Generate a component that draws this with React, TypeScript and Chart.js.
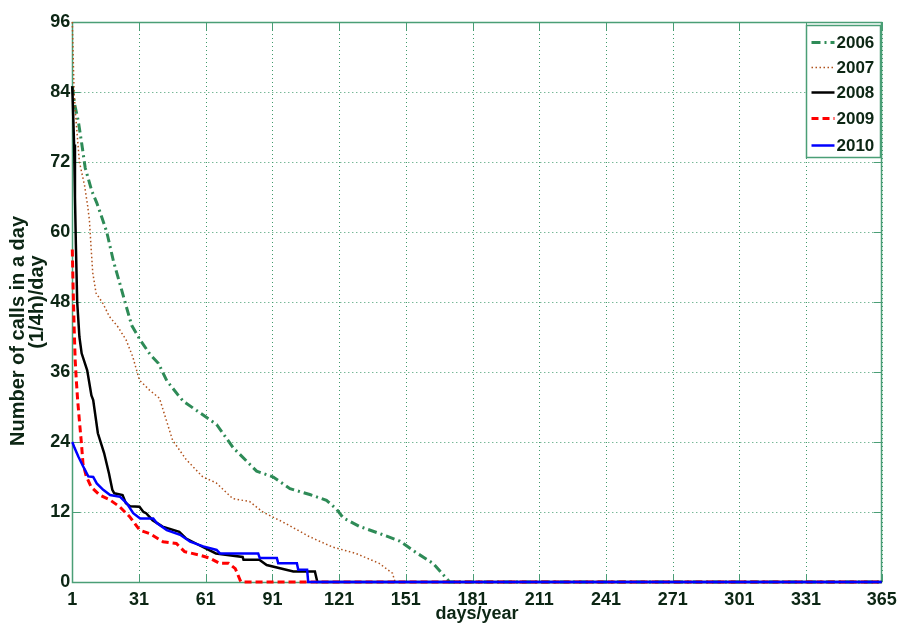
import React, { useEffect, useRef } from 'react';
import { Chart, registerables } from 'chart.js';

Chart.register(...registerables);

// ---------- data ----------
const xTickValues = [1, 31, 61, 91, 121, 151, 181, 211, 241, 271, 301, 331, 365];
const yTickValues = [0, 12, 24, 36, 48, 60, 72, 84, 96];
const seriesNames = ['2006', '2007', '2008', '2009', '2010'];

const days2006 = [1, 2, 3.7, 5.3, 6.8, 9.8, 12, 14.3, 16.5, 19.5, 22.5, 24.7, 27.7, 31.5, 36, 39.7, 43.5, 48.7, 50.9, 58.4, 65.9, 73.4, 83.9, 91.4, 98.9, 107.8, 115.3, 119.8, 122.8, 130.3, 139.3, 148.3, 155.8, 163.2, 170, 170.6, 365];
const vals2006 = [85, 82, 79, 75, 71, 67, 65, 62.5, 60, 55, 51, 48, 44, 41.5, 39, 37.5, 34.5, 32, 31, 29, 27, 23, 19, 18, 16, 15, 14, 12.5, 11, 9.5, 8.3, 7, 5, 3.2, 0.3, 0, 0];

const days2007 = [1, 1.4, 1.8, 2.5, 4.2, 6.5, 7.9, 8.7, 9.5, 10.2, 11.7, 14.7, 17.7, 21.4, 25.2, 28.2, 31.2, 35.7, 40.2, 46.1, 52.2, 59.7, 65.7, 73.1, 80.7, 86.7, 97.1, 107.5, 118, 128.5, 139, 145, 145.9, 146.5, 365];
const vals2007 = [96, 90, 84, 80, 72, 68, 64.5, 62, 57, 53, 49.5, 47.8, 45.5, 43.8, 41.5, 38.6, 34.6, 32.9, 31.5, 24.3, 21, 18, 17, 14.3, 13.8, 12, 10, 7.8, 6, 4.9, 3.2, 1.5, 0.3, 0, 0];

const days2008 = [1, 1.4, 1.8, 2.2, 2.6, 3.2, 4.2, 5.2, 7.7, 9.6, 10.4, 12.5, 15.3, 17.5, 19, 19.9, 23.6, 25.1, 27, 31.2, 33, 34.2, 37.1, 41.6, 49.1, 52, 58.1, 65.6, 77.6, 78, 85.1, 88.4, 100.4, 110.1, 111.2, 365];
const vals2008 = [85, 80, 75, 66, 58, 48, 42, 39.2, 36.3, 32, 31.2, 25.5, 22.1, 18.6, 15.8, 15.2, 14.9, 13.5, 13, 12.9, 12, 11.8, 10.6, 9.5, 8.6, 7.5, 6.3, 4.9, 4.3, 3.8, 3.8, 2.9, 1.8, 1.8, 0, 0];

const days2009 = [1, 1.4, 1.8, 2.3, 2.8, 3.4, 4.3, 5.1, 5.8, 7.3, 9.5, 13.3, 17.8, 22.3, 26.8, 31.3, 35.8, 41.8, 47.8, 51.5, 58.3, 62.8, 67.3, 71.3, 74.3, 76.5, 77, 365];
const vals2009 = [57, 50, 44, 38, 34.6, 31.2, 27.2, 23.8, 20.3, 18.1, 16.3, 14.9, 14.1, 12.9, 11.2, 8.9, 8.3, 6.9, 6.6, 5.2, 4.6, 4.1, 3.2, 3.2, 2.3, 0.3, 0, 0];

const days2010 = [1, 2, 3.7, 5.9, 8.2, 10.4, 12, 14.9, 18, 22.5, 25.5, 28.4, 31.5, 37.4, 39, 43.5, 49.5, 54, 59.9, 65.9, 67.4, 84.6, 85.3, 93, 93.6, 102, 102.6, 106.6, 107.1, 365];
const vals2010 = [24, 23, 21.5, 19.8, 18.1, 18, 16.9, 15.8, 14.9, 14.6, 13.5, 11.8, 10.9, 10.9, 10.1, 8.9, 8.1, 6.9, 6.1, 5.5, 4.9, 4.9, 4.1, 4.1, 3.2, 3.2, 2.1, 2.1, 0, 0];

const yTitleLines = ['Number of calls in a day', '(1/4h)/day'];
const xTitle = 'days/year';

// ---------- styles ----------
const FRAME = '#4a9e76';
const GRID = '#3f9a6c';
const TEXT = '#0c2614';
const FONT = "'Liberation Sans', Arial, sans-serif";

const styles = [
  { color: '#2e8b57', width: 3, dash: [9, 4, 2, 4] },
  { color: '#b0521c', width: 1.5, dash: [1.5, 2.5] },
  { color: '#000000', width: 2.5, dash: [] as number[] },
  { color: '#ff0000', width: 3, dash: [7, 4] },
  { color: '#0000ff', width: 2.5, dash: [] as number[] },
];

const allDays = [days2006, days2007, days2008, days2009, days2010];
const allVals = [vals2006, vals2007, vals2008, vals2009, vals2010];

const decor = {
  id: 'decor',
  beforeDatasetsDraw(chart: any) {
    const { ctx, chartArea: a, scales } = chart;
    const x = scales.x;
    const y = scales.y;
    ctx.save();
    ctx.lineWidth = 1;
    ctx.strokeStyle = GRID;
    ctx.setLineDash([1, 3]);
    for (const v of yTickValues) {
      const py = Math.round(y.getPixelForValue(v)) + 0.5;
      ctx.beginPath();
      ctx.moveTo(a.left, py);
      ctx.lineTo(a.right, py);
      ctx.stroke();
    }
    for (const v of xTickValues) {
      const px = Math.round(x.getPixelForValue(v)) + 0.5;
      ctx.beginPath();
      ctx.moveTo(px, a.top);
      ctx.lineTo(px, a.bottom);
      ctx.stroke();
    }
    ctx.setLineDash([]);
    ctx.strokeStyle = FRAME;
    const tl = 8;
    for (const v of yTickValues) {
      const py = Math.round(y.getPixelForValue(v)) + 0.5;
      ctx.beginPath();
      ctx.moveTo(a.left, py);
      ctx.lineTo(a.left + tl, py);
      ctx.moveTo(a.right, py);
      ctx.lineTo(a.right - tl, py);
      ctx.stroke();
    }
    for (const v of xTickValues) {
      const px = Math.round(x.getPixelForValue(v)) + 0.5;
      ctx.beginPath();
      ctx.moveTo(px, a.bottom);
      ctx.lineTo(px, a.bottom - tl);
      ctx.moveTo(px, a.top);
      ctx.lineTo(px, a.top + tl);
      ctx.stroke();
    }
    ctx.lineWidth = 1.5;
    ctx.strokeRect(Math.round(a.left) + 0.5, Math.round(a.top) + 0.5, Math.round(a.right - a.left), Math.round(a.bottom - a.top));
    ctx.restore();
  },
  afterDatasetsDraw(chart: any) {
    const { ctx, chartArea: a } = chart;
    ctx.save();
    const bw = 74;
    const bh = 132;
    const bx = Math.round(a.right) - 1.5 - bw;
    const by = Math.round(a.top) + 3.5;
    ctx.fillStyle = '#ffffff';
    ctx.fillRect(bx, by, bw, bh);
    ctx.strokeStyle = FRAME;
    ctx.lineWidth = 1.5;
    ctx.strokeRect(bx, by, bw, bh);
    const rows = [17, 42, 67, 93, 120];
    ctx.font = `bold 17px ${FONT}`;
    ctx.textBaseline = 'middle';
    ctx.textAlign = 'left';
    seriesNames.forEach((name, i) => {
      const st = styles[i];
      const yy = by + rows[i];
      ctx.strokeStyle = st.color;
      ctx.lineWidth = st.width;
      ctx.setLineDash(st.dash);
      ctx.beginPath();
      ctx.moveTo(bx + 5, yy);
      ctx.lineTo(bx + 28, yy);
      ctx.stroke();
      ctx.setLineDash([]);
      ctx.fillStyle = TEXT;
      ctx.fillText(name, bx + 30, yy + 1);
    });
    ctx.restore();
  },
  afterDraw(chart: any) {
    const { ctx, chartArea: a } = chart;
    ctx.save();
    ctx.fillStyle = TEXT;
    ctx.font = `bold 20px ${FONT}`;
    ctx.textAlign = 'center';
    ctx.textBaseline = 'middle';
    ctx.save();
    ctx.translate(18, 331);
    ctx.rotate(-Math.PI / 2);
    ctx.fillText(yTitleLines[0], 0, 0);
    ctx.restore();
    ctx.save();
    ctx.translate(37, 302);
    ctx.rotate(-Math.PI / 2);
    ctx.fillText(yTitleLines[1], 0, 0);
    ctx.restore();
    ctx.font = `bold 18px ${FONT}`;
    ctx.fillText(xTitle, (a.left + a.right) / 2, 614);
    ctx.restore();
  },
};

export default function App() {
  const ref = useRef<HTMLCanvasElement | null>(null);
  useEffect(() => {
    if (!ref.current) return;
    const datasets = seriesNames.map((name, i) => ({
      label: name,
      data: allDays[i].map((d, k) => ({ x: d, y: allVals[i][k] })),
      borderColor: styles[i].color,
      borderWidth: styles[i].width,
      borderDash: styles[i].dash,
      pointRadius: 0,
      fill: false,
      tension: 0,
      clip: 6,
      order: 4 - i,
    }));
    const chart = new Chart(ref.current, {
      type: 'line',
      data: { datasets },
      options: {
        responsive: false,
        animation: false,
        events: [],
        layout: { padding: { left: 0, right: 16.3, top: 22, bottom: 0 } },
        plugins: { legend: { display: false }, tooltip: { enabled: false } },
        scales: {
          x: {
            type: 'linear',
            min: 1,
            max: 365,
            grid: { display: false, drawTicks: false },
            border: { display: false },
            afterBuildTicks: (scale: any) => {
              scale.ticks = xTickValues.map((value) => ({ value }));
            },
            afterFit: (scale: any) => {
              scale.height = 46;
              scale.paddingLeft = 0;
              scale.paddingRight = 0;
            },
            ticks: {
              autoSkip: false,
              maxRotation: 0,
              padding: 7,
              color: TEXT,
              font: { family: FONT, size: 18, weight: 'bold' },
            },
          },
          y: {
            type: 'linear',
            min: 0,
            max: 96,
            grid: { display: false, drawTicks: false },
            border: { display: false },
            afterFit: (scale: any) => {
              scale.width = 72.3;
              scale.paddingTop = 0;
              scale.paddingBottom = 0;
            },
            ticks: {
              stepSize: 12,
              padding: 2,
              color: TEXT,
              font: { family: FONT, size: 18, weight: 'bold' },
            },
          },
        },
      },
      plugins: [decor],
    } as any);
    return () => chart.destroy();
  }, []);
  return (
    <div style={{ position: 'absolute', left: 0, top: 0, width: 898, height: 628, background: '#fff' }}>
      <canvas ref={ref} width={898} height={628} />
    </div>
  );
}
